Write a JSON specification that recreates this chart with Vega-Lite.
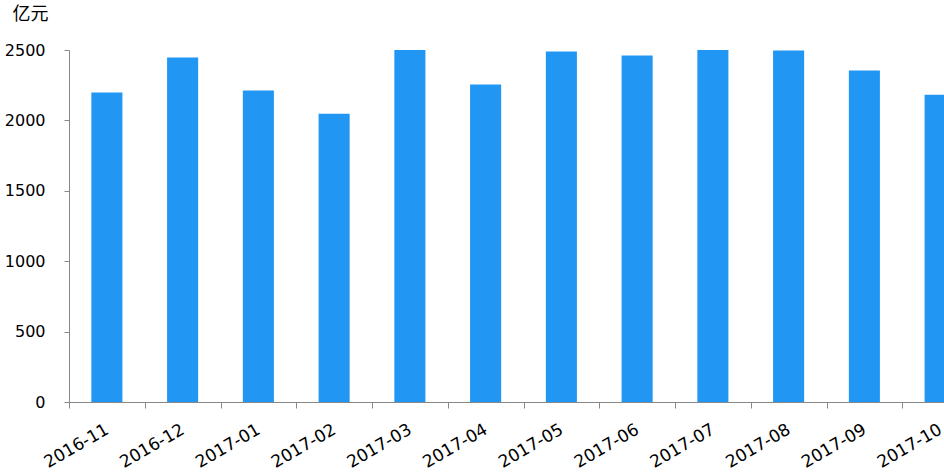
{
  "$schema": "https://vega.github.io/schema/vega-lite/v6.json",
  "autosize": {"type": "none"},
  "padding": {"left": 69, "top": 50, "right": 0, "bottom": 71},
  "width": 909,
  "height": 352,
  "background": "white",
  "config": {"view": {"stroke": null}, "font": "DejaVu Sans"},
  "data": {"values": [
    {"month": "2016-11", "value": 2198},
    {"month": "2016-12", "value": 2447},
    {"month": "2017-01", "value": 2212},
    {"month": "2017-02", "value": 2048},
    {"month": "2017-03", "value": 2500},
    {"month": "2017-04", "value": 2255},
    {"month": "2017-05", "value": 2489},
    {"month": "2017-06", "value": 2461},
    {"month": "2017-07", "value": 2500},
    {"month": "2017-08", "value": 2496},
    {"month": "2017-09", "value": 2354},
    {"month": "2017-10", "value": 2183}
  ]},
  "mark": {"type": "bar", "color": "#2196F3", "width": {"band": 0.41}},
  "encoding": {
    "x": {
      "field": "month", "type": "nominal", "sort": null,
      "scale": {"paddingInner": 0, "paddingOuter": 0},
      "axis": {
        "title": null, "labelAngle": -30, "labelAlign": "right", "labelBaseline": "middle",
        "labelFontSize": 17, "labelColor": "#000", "labelPadding": 20,
        "tickBand": "extent", "tickSize": 6, "tickColor": "#888", "domainColor": "#888", "grid": false
      }
    },
    "y": {
      "field": "value", "type": "quantitative",
      "scale": {"domain": [0, 2500], "nice": false},
      "axis": {
        "title": "亿元", "titleAngle": 0, "titleAlign": "left", "titleBaseline": "alphabetic",
        "titleX": -57, "titleY": -31, "titleFontSize": 18, "titleFontWeight": "normal", "titleFont": "Noto Sans CJK SC", "titleColor": "#000",
        "values": [0, 500, 1000, 1500, 2000, 2500], "format": "d",
        "labelFontSize": 16, "labelColor": "#000", "labelPadding": 19,
        "tickSize": 5, "tickColor": "#888", "domainColor": "#888", "grid": false
      }
    }
  }
}
